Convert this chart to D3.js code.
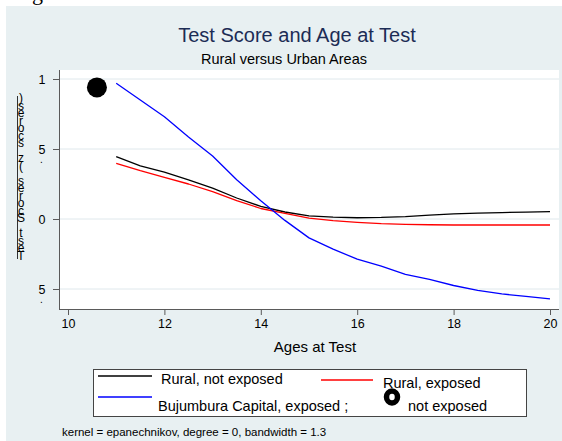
<!DOCTYPE html>
<html>
<head>
<meta charset="utf-8">
<script src="https://cdn.jsdelivr.net/npm/d3@7"></script>
<style>
  html, body { margin: 0; padding: 0; background: #ffffff; }
  svg { display: block; }
  text { font-family: "Liberation Sans", Arial, sans-serif; }
</style>
</head>
<body>
<svg id="chart" width="562" height="441"></svg>
<script>
// Kernel-smoothed test scores (z-scores) by age at test
const ages = [11, 11.5, 12, 12.5, 13, 13.5, 14, 14.5, 15, 15.5, 16, 16.5, 17, 17.5, 18, 18.5, 19, 19.5, 20];
const ruralNotExposed = [0.445, 0.38, 0.335, 0.28, 0.22, 0.15, 0.09, 0.05, 0.022, 0.013, 0.009, 0.011, 0.017, 0.028, 0.037, 0.042, 0.046, 0.049, 0.052];
const ruralExposed = [0.398, 0.345, 0.298, 0.25, 0.195, 0.131, 0.075, 0.04, 0.006, -0.012, -0.024, -0.033, -0.038, -0.041, -0.043, -0.043, -0.043, -0.043, -0.043];
const capitalExposed = [0.969, 0.85, 0.73, 0.585, 0.45, 0.28, 0.13, -0.01, -0.135, -0.215, -0.287, -0.337, -0.395, -0.432, -0.475, -0.51, -0.535, -0.553, -0.571];
// Bujumbura Capital, not exposed: a single point
const capitalNotExposed = [{ age: 10.6, score: 0.94 }];

const xTicks = [10, 12, 14, 16, 18, 20];
const yTicks = [1, 0.5, 0, -0.5];
const yTickLabels = ["1", "5", "0", "5"];

const seriesNames = ["Rural, not exposed", "Rural, exposed", "Bujumbura Capital, exposed ;", "not exposed"];
const seriesColors = ["#000000", "#ff0000", "#0000ff", "#000000"];

const title = "Test Score and Age at Test";
const subtitle = "Rural versus Urban Areas";
const xTitle = "Ages at Test";
const yTitle = "Test Scores (z scores)";
const note = "kernel = epanechnikov, degree = 0, bandwidth = 1.3";

const svg = d3.select("#chart");
const W = 562, H = 441;

// graph region
svg.append("rect").attr("x", 6).attr("y", 6).attr("width", W - 6).attr("height", H - 6)
  .attr("fill", "#e8f0f2");

// descender of a heading sitting just above the figure
svg.append("text").attr("x", 32).attr("y", 0)
  .style("font-family", "'Liberation Serif', 'Times New Roman', serif")
  .style("font-size", "22px").attr("fill", "#000").text("g");

const plot = { left: 59, right: 559, top: 70, bottom: 309 };

const x = d3.scaleLinear().domain([10, 20]).range([68, 550]);
const y = d3.scaleLinear().domain([-0.5, 1]).range([289, 79]);

// plot region
svg.append("rect").attr("x", plot.left).attr("y", plot.top)
  .attr("width", plot.right - plot.left).attr("height", plot.bottom - plot.top)
  .attr("fill", "#ffffff");

// horizontal grid lines
svg.append("g").selectAll("line").data(yTicks).join("line")
  .attr("x1", plot.left + 1).attr("x2", plot.right)
  .attr("y1", d => y(d)).attr("y2", d => y(d))
  .attr("stroke", "#dfe8ec").attr("stroke-width", 1);

// x axis
const xAxis = d3.axisBottom(x).tickValues(xTicks).tickSize(6).tickPadding(4).tickFormat(d3.format("d"));
const gx = svg.append("g").attr("transform", `translate(0,${plot.bottom})`).call(xAxis);
gx.select(".domain").attr("d", `M${plot.left},0.5H${plot.right}`).attr("stroke", "#5a5a5a");
gx.selectAll(".tick line").attr("stroke", "#5a5a5a");
gx.selectAll(".tick text").attr("fill", "#000").style("font-size", "12.5px")
  .style("font-family", "'Liberation Sans', Arial, sans-serif");

// y axis
const yAxis = d3.axisLeft(y).tickValues(yTicks).tickSize(6).tickPadding(8)
  .tickFormat(() => "");
const gy = svg.append("g").attr("transform", `translate(${plot.left},0)`).call(yAxis);
gy.select(".domain").attr("d", `M0.5,${plot.top}V${plot.bottom}`).attr("stroke", "#5a5a5a");
gy.selectAll(".tick line").attr("stroke", "#5a5a5a");
// tick labels; fractional ones carry a small point beneath the digit
gy.selectAll(".tick text").each(function (d, i) {
  const t = d3.select(this).attr("fill", "#000").style("font-size", "12.5px")
    .style("font-family", "'Liberation Sans', Arial, sans-serif")
    .attr("text-anchor", "middle").attr("x", -17);
  t.append("tspan").text(yTickLabels[i]);
  if (d !== 0 && d !== 1) {
    t.append("tspan").attr("x", -17.5).attr("dy", 9).style("font-size", "10px").text(".");
  }
});

// y title, glyphs stacked top to bottom in one text element
const yChars = yTitle.split("").reverse();
const yStep = 158 / (yChars.length - 1);
const yt = svg.append("text").attr("text-anchor", "middle")
  .style("font-size", "12px").attr("fill", "#000");
yt.selectAll("tspan").data(yChars).join("tspan")
  .attr("x", 21).attr("y", (d, i) => 102 + i * yStep)
  .text(d => d);
svg.append("line").attr("x1", 17.5).attr("x2", 17.5).attr("y1", 96).attr("y2", 259)
  .attr("stroke", "#000").attr("stroke-width", 0.8);

// titles
svg.append("text").attr("x", 297).attr("y", 42).attr("text-anchor", "middle")
  .style("font-size", "20px").attr("fill", "#1c2c55").text(title);
svg.append("text").attr("x", 284).attr("y", 64).attr("text-anchor", "middle")
  .style("font-size", "14.5px").attr("fill", "#000").text(subtitle);
svg.append("text").attr("x", 315).attr("y", 352).attr("text-anchor", "middle")
  .style("font-size", "15px").attr("fill", "#000").text(xTitle);

// smoothed lines
const line = d3.line().x(d => x(d[0])).y(d => y(d[1]));
const lineSeries = [ruralNotExposed, ruralExposed, capitalExposed];
svg.append("g").selectAll("path").data(lineSeries).join("path")
  .attr("d", vals => line(ages.map((a, i) => [a, vals[i]])))
  .attr("fill", "none")
  .attr("stroke", (d, i) => seriesColors[i])
  .attr("stroke-width", 1.3)
  .attr("stroke-linejoin", "round");

// single point
svg.append("g").selectAll("circle").data(capitalNotExposed).join("circle")
  .attr("cx", d => x(d.age)).attr("cy", d => y(d.score)).attr("r", 10)
  .attr("fill", "#000");

// legend
const lg = svg.append("g");
lg.append("rect").attr("x", 93.5).attr("y", 369.5).attr("width", 433).attr("height", 47)
  .attr("fill", "#ffffff").attr("stroke", "#444").attr("stroke-width", 1);
const legendItems = [
  { i: 0, lx1: 98, lx2: 152, ly: 376, tx: 161, ty: 384 },
  { i: 1, lx1: 321, lx2: 373, ly: 380, tx: 383, ty: 388 },
  { i: 2, lx1: 98, lx2: 152, ly: 397, tx: 158, ty: 411 }
];
legendItems.forEach(it => {
  lg.append("line").attr("x1", it.lx1).attr("x2", it.lx2).attr("y1", it.ly).attr("y2", it.ly)
    .attr("stroke", seriesColors[it.i]).attr("stroke-width", 1.3);
  lg.append("text").attr("x", it.tx).attr("y", it.ty)
    .style("font-size", "14.5px").attr("fill", "#000").text(seriesNames[it.i]);
});
lg.append("ellipse").attr("cx", 392).attr("cy", 397).attr("rx", 5.5).attr("ry", 6)
  .attr("fill", "#fff").attr("stroke", seriesColors[3]).attr("stroke-width", 5.5);
lg.append("text").attr("x", 408).attr("y", 411)
  .style("font-size", "14.5px").attr("fill", "#000").text(seriesNames[3]);

// note
svg.append("text").attr("x", 62).attr("y", 436)
  .style("font-size", "11.5px").attr("fill", "#000").text(note);
</script>
</body>
</html>
